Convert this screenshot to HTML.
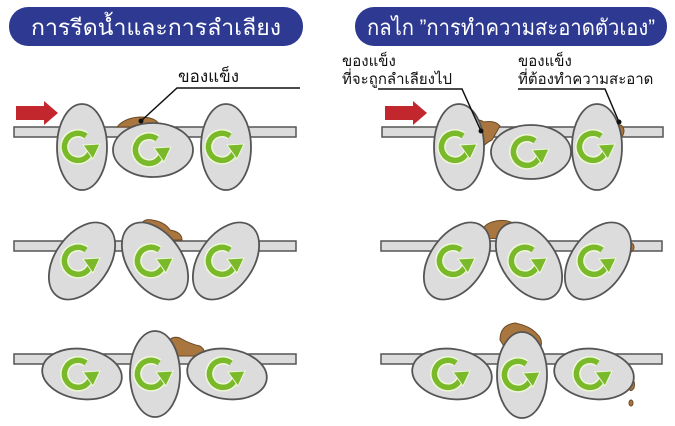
<!DOCTYPE html>
<html><head><meta charset="utf-8"><style>
html,body{margin:0;padding:0;background:#fff;}
svg{display:block;}
text{font-family:"Liberation Sans","DejaVu Sans",sans-serif;}
</style></head><body>
<svg width="675" height="426" viewBox="0 0 675 426" xmlns="http://www.w3.org/2000/svg">
<defs>
<g id="rot">
<path d="M8,-11 A13.5 13.5 0 1 0 13.4,-1" fill="none" stroke="#eef7da" stroke-width="8.5"/>
<path d="M8,-11 A13.5 13.5 0 1 0 13.4,-1" fill="none" stroke="#7ab929" stroke-width="5.5"/>
<polygon points="5,-2 22,-3 15,12" fill="#7ab929" stroke="#eef7da" stroke-width="1"/>
</g>
<g id="ev">
<ellipse cx="0" cy="0" rx="25" ry="43" fill="#dcdcdc" stroke="#555" stroke-width="1.8"/>
<use href="#rot" x="-4" y="0"/>
</g>
<g id="eh">
<ellipse cx="0" cy="0" rx="40" ry="27" fill="#dcdcdc" stroke="#555" stroke-width="1.8"/>
<use href="#rot" x="-4" y="0"/>
</g>
<g id="etl">
<ellipse cx="0" cy="0" rx="43" ry="27" transform="rotate(-55)" fill="#dcdcdc" stroke="#555" stroke-width="1.8"/>
<use href="#rot" x="-4" y="0"/>
</g>
<g id="etr">
<ellipse cx="0" cy="0" rx="43" ry="27" transform="rotate(55)" fill="#dcdcdc" stroke="#555" stroke-width="1.8"/>
<use href="#rot" x="-4" y="0"/>
</g>
<g id="eh2">
<ellipse cx="0" cy="0" rx="40" ry="25" transform="rotate(8)" fill="#dcdcdc" stroke="#555" stroke-width="1.8"/>
<use href="#rot" x="-4" y="0"/>
</g>
</defs>

<!-- titles -->
<rect x="9" y="7" width="294" height="39" rx="19" fill="#2e3a92"/>
<text x="156" y="35" font-size="22" fill="#fff" text-anchor="middle" textLength="250" lengthAdjust="spacingAndGlyphs">การรีดน้ำและการลำเลียง</text>
<rect x="355" y="7" width="312" height="39" rx="19" fill="#2e3a92"/>
<text x="511" y="35" font-size="22" fill="#fff" text-anchor="middle" textLength="288" lengthAdjust="spacingAndGlyphs">กลไก ”การทำความสะอาดตัวเอง”</text>

<!-- LEFT row1 -->
<polygon points="16,106 44,106 44,101 58,113 44,125 44,120 16,120" fill="#c1272d"/>
<rect x="14" y="127" width="282" height="10" fill="#dcdcdc" stroke="#555" stroke-width="1.5"/>
<path d="M117,127 Q124,118 140,117 Q158,117 160,127 Z" fill="#a8763e" stroke="#6b4a25"/>
<use href="#ev" x="82" y="147"/>
<use href="#eh" x="153" y="150"/>
<use href="#ev" x="226" y="147"/>
<polyline points="141,121 177,88 300,88" fill="none" stroke="#111" stroke-width="1.5"/>
<circle cx="141" cy="121" r="2.5" fill="#111"/>
<text x="178" y="82" font-size="17" fill="#111">ของแข็ง</text>

<!-- LEFT row2 -->
<rect x="14" y="241" width="282" height="10" fill="#dcdcdc" stroke="#555" stroke-width="1.5"/>
<path d="M140,228 Q142,218 152,220 Q165,222 170,230 Q182,232 182,240 L150,240 Z" fill="#a8763e" stroke="#6b4a25"/>
<use href="#etl" x="82" y="261"/>
<use href="#etr" x="155" y="261"/>
<use href="#etl" x="226" y="261"/>

<!-- LEFT row3 -->
<rect x="14" y="354" width="282" height="10" fill="#dcdcdc" stroke="#555" stroke-width="1.5"/>
<path d="M167,345 Q170,335 180,338 Q190,344 200,346 Q206,350 204,356 L172,356 Z" fill="#a8763e" stroke="#6b4a25"/>
<use href="#eh2" x="82" y="374"/>
<use href="#ev" x="155" y="374"/>
<use href="#eh2" x="227" y="374"/>

<!-- RIGHT row1 -->
<polygon points="385,106 413,106 413,101 427,113 413,125 413,120 385,120" fill="#c1272d"/>
<rect x="382" y="127" width="281" height="10" fill="#dcdcdc" stroke="#555" stroke-width="1.5"/>
<path d="M468,120 Q478,118 484,122 Q495,120 500,126 L492,140 Q482,145 480,152 L474,150 Z" fill="#a8763e" stroke="#6b4a25"/>
<path d="M614,126 Q622,122 624,130 Q624,138 617,138 Z" fill="#a8763e" stroke="#6b4a25"/>
<use href="#ev" x="459" y="147"/>
<use href="#eh" x="531" y="152"/>
<use href="#ev" x="597" y="147"/>
<polyline points="481,131 462,89 378,89" fill="none" stroke="#111" stroke-width="1.5"/>
<circle cx="481" cy="131" r="2.5" fill="#111"/>
<polyline points="619,122 605,89 518,89" fill="none" stroke="#111" stroke-width="1.5"/>
<circle cx="619" cy="122" r="2.5" fill="#111"/>
<text x="342" y="66" font-size="15" fill="#111">ของแข็ง</text>
<text x="342" y="84" font-size="15" fill="#111">ที่จะถูกลำเลียงไป</text>
<text x="518" y="66" font-size="15" fill="#111">ของแข็ง</text>
<text x="518" y="84" font-size="15" fill="#111">ที่ต้องทำความสะอาด</text>

<!-- RIGHT row2 -->
<rect x="381" y="241" width="281" height="10" fill="#dcdcdc" stroke="#555" stroke-width="1.5"/>
<path d="M482,238 Q480,226 492,222 Q505,218 515,224 Q528,226 533,232 L530,240 Z" fill="#a8763e" stroke="#6b4a25"/>
<path d="M627,243 Q634,241 634,248 Q632,254 627,252 Z" fill="#a8763e" stroke="#6b4a25"/>
<use href="#etl" x="457" y="261"/>
<use href="#etr" x="529" y="261"/>
<use href="#etl" x="598" y="261"/>

<!-- RIGHT row3 -->
<rect x="381" y="354" width="281" height="10" fill="#dcdcdc" stroke="#555" stroke-width="1.5"/>
<path d="M500,340 Q500,325 515,323 Q530,326 537,334 Q544,340 540,350 L505,348 Z" fill="#a8763e" stroke="#6b4a25"/>
<path d="M630,378 Q636,380 634,388 Q630,394 628,386 Z" fill="#a8763e" stroke="#6b4a25"/>
<ellipse cx="631" cy="403" rx="2" ry="3" fill="#a8763e" stroke="#6b4a25"/>
<use href="#eh2" x="452" y="374"/>
<use href="#ev" x="522" y="375"/>
<use href="#eh2" x="594" y="374"/>
</svg>
</body></html>
